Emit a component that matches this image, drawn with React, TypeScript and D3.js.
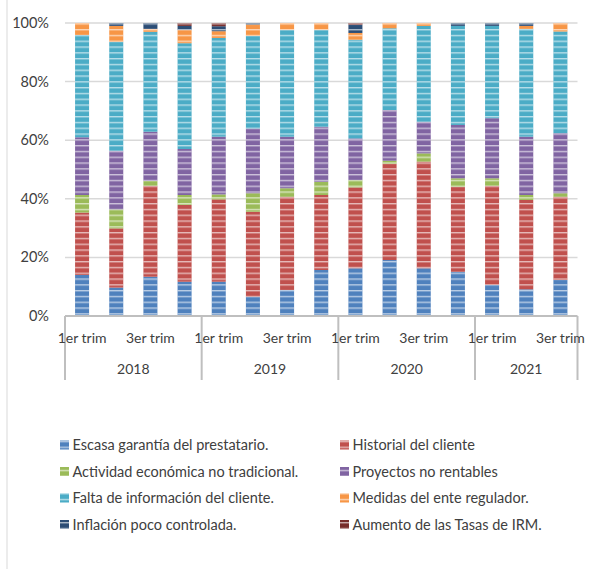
import React from 'react';
import * as d3 from 'd3';

const quarterLabels = [
  '1er trim', '2do trim', '3er trim', '4to trim',
  '1er trim', '2do trim', '3er trim', '4to trim',
  '1er trim', '2do trim', '3er trim', '4to trim',
  '1er trim', '2do trim', '3er trim',
];
const years = ['2018', '2019', '2020', '2021'];
const yearCounts = [4, 4, 4, 3];
const yTicks = [0, 0.2, 0.4, 0.6, 0.8, 1];

const seriesNames = [
  'Escasa garantía del prestatario.',
  'Historial del cliente',
  'Actividad económica no tradicional.',
  'Proyectos no rentables',
  'Falta de información del cliente.',
  'Medidas del ente regulador.',
  'Inflación poco controlada.',
  'Aumento de las Tasas de IRM.',
];
const seriesColors = ['#4F81BD', '#C0504D', '#9BBB59', '#8064A2', '#4BACC6', '#F79646', '#2C4D75', '#772C2A'];

const escasa = [14, 9.7, 13.4, 11.7, 11.7, 6.6, 8.9, 15.7, 16.3, 19.1, 16.3, 15.1, 10.6, 9.1, 12.3];
const historial = [21.3, 20.2, 31, 26.2, 28.1, 29, 31.8, 25.6, 27.6, 32.9, 36.4, 29, 33.8, 30.5, 28.4];
const actividad = [6, 6.5, 1.7, 3.4, 1.7, 6.3, 2.9, 4.5, 2.5, 1, 2.8, 2.9, 2.6, 1.7, 1.2];
const proyectos = [19.7, 20, 16.8, 15.7, 19.7, 22.1, 17.6, 18.8, 14.2, 17.3, 10.8, 18.2, 20.5, 19.9, 20.5];
const falta = [34.9, 37.2, 34.1, 36.1, 33.7, 31.6, 36.4, 33, 33.7, 27.9, 32.7, 33.8, 31.5, 36.8, 34.7];
const medidas = [4.1, 5.4, 1, 4.5, 2.3, 3.9, 2.4, 2.4, 2.3, 1.8, 1, 0, 0, 1, 2.9];
const inflacion = [0, 1, 2, 1.4, 1.7, 0.5, 0, 0, 2.8, 0, 0, 1, 1, 1, 0];
const aumento = [0, 0, 0, 1, 1.1, 0, 0, 0, 0.6, 0, 0, 0, 0, 0, 0];

const seriesValues = [escasa, historial, actividad, proyectos, falta, medidas, inflacion, aumento];

const W = 601, H = 569;
const left = 65, right = 577.5, top = 23, bottom = 316;
const FONT = 'Lato, "Open Sans", sans-serif';
const TEXT = '#404040';

export default function App() {
  const n = quarterLabels.length;
  const idx = d3.range(n);
  const rows = idx.map((i) => {
    const total = d3.sum(seriesValues, (s) => s[i]);
    const o: any = { i };
    seriesValues.forEach((s, k) => { o['s' + k] = s[i] / total; });
    return o;
  });
  const keys = seriesValues.map((_, k) => 's' + k);
  const stacked = d3.stack<any>().keys(keys)(rows);

  const x = d3.scaleBand<number>().domain(idx).range([left, right]).paddingInner(0.59).paddingOuter(0.295);
  const y = d3.scaleLinear().domain([0, 1]).range([bottom, top]);
  const step = x.step();

  const bounds: number[] = [left];
  let acc = 0;
  yearCounts.forEach((c) => { acc += c; bounds.push(left + acc * step); });

  const legendRows = [445, 471.5, 498, 524.5];
  const legendCols = [60, 340];

  return (
    <svg width={W} height={H} style={{ position: 'absolute', left: 0, top: 0, background: '#fff' }} fontFamily={FONT}>
      <defs>
        <pattern id="stripes" patternUnits="userSpaceOnUse" width={10} height={5.8}>
          <rect x={0} y={0} width={10} height={1.4} fill="#fff" opacity={0.6} />
        </pattern>
      </defs>
      <line x1={7} x2={7} y1={0} y2={H} stroke="#d9d9d9" strokeWidth={1} />
      {yTicks.filter((t) => t > 0).map((t) => (
        <line key={t} x1={left} x2={right} y1={y(t)} y2={y(t)} stroke="#d9d9d9" strokeWidth={1.5} />
      ))}
      {yTicks.map((t) => (
        <text key={t} x={49} y={y(t)} dy="0.35em" textAnchor="end" fontSize={14.5} fill={TEXT}>
          {d3.format('.0%')(t)}
        </text>
      ))}
      {stacked.map((layer, k) => (
        <g key={k}>
          {layer.map((d, i) => {
            const h = y(d[0]) - y(d[1]);
            if (h <= 0) return null;
            return (
              <g key={i}>
                <rect x={x(i)} y={y(d[1])} width={x.bandwidth()} height={h} fill={seriesColors[k]} />
                <rect x={x(i)} y={y(d[1])} width={x.bandwidth()} height={h} fill="url(#stripes)" />
              </g>
            );
          })}
        </g>
      ))}
      <line x1={left} x2={right} y1={bottom} y2={bottom} stroke="#bfbfbf" strokeWidth={2} />
      {bounds.map((b, j) => (
        <line key={j} x1={b} x2={b} y1={bottom} y2={380} stroke="#bfbfbf" strokeWidth={2} />
      ))}
      {idx.map((i) => {
        let pos = i;
        for (let j = 0; j < yearCounts.length; j++) {
          if (pos < yearCounts[j]) break;
          pos -= yearCounts[j];
        }
        if (pos % 2 !== 0) return null;
        return (
          <text key={i} x={x(i)! + x.bandwidth() / 2} y={343} textAnchor="middle" fontSize={14} fill={TEXT}>
            {quarterLabels[i]}
          </text>
        );
      })}
      {years.map((yr, j) => (
        <text key={yr} x={(bounds[j] + bounds[j + 1]) / 2} y={374} textAnchor="middle" fontSize={14} fill={TEXT}>
          {yr}
        </text>
      ))}
      {seriesNames.map((name, k) => {
        const col = k % 2, row = Math.floor(k / 2);
        const lx = legendCols[col], ly = legendRows[row];
        return (
          <g key={name}>
            <rect x={lx} y={ly - 4.5} width={9} height={9} fill={seriesColors[k]} />
            <rect x={lx} y={ly - 4.5} width={9} height={9} fill="url(#stripes)" />
            <text x={lx + 12.5} y={ly} dy="0.35em" fontSize={14.5} fill={TEXT}>{name}</text>
          </g>
        );
      })}
    </svg>
  );
}
